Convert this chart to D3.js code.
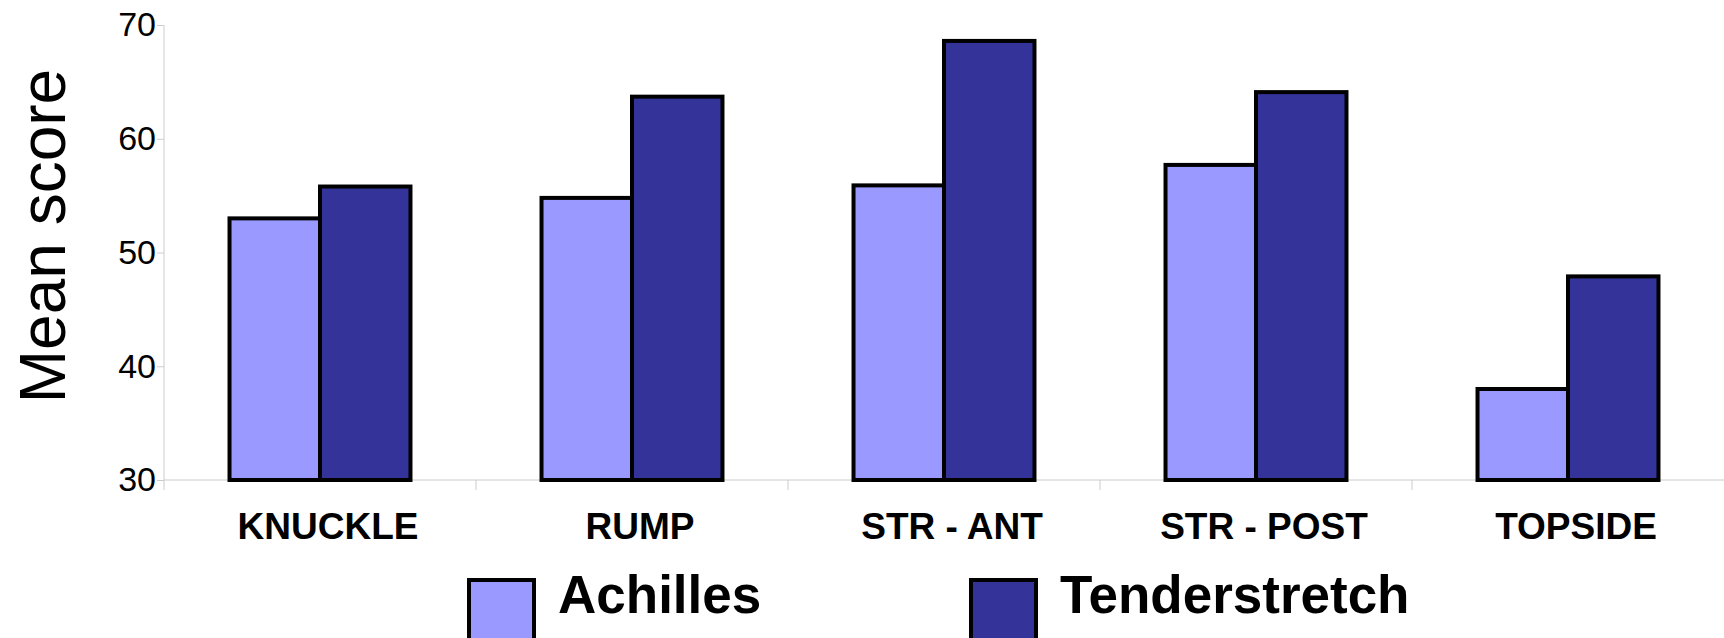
<!DOCTYPE html>
<html>
<head>
<meta charset="utf-8">
<script src="https://cdn.jsdelivr.net/npm/d3@7"></script>
<style>
  html, body { margin: 0; padding: 0; background: #ffffff; }
  svg { display: block; }
</style>
</head>
<body>
<svg id="chart" width="1724" height="638"></svg>
<script>
// Mean score per cut, by treatment
const categories = ["KNUCKLE", "RUMP", "STR - ANT", "STR - POST", "TOPSIDE"];
const seriesNames = ["Achilles", "Tenderstretch"];
const achilles = [53.0, 54.8, 55.9, 57.7, 38.0];
const tenderstretch = [55.8, 63.7, 68.6, 64.1, 47.9];
const yTicks = [30, 40, 50, 60, 70];
const seriesColors = ["#9999ff", "#333399"];

const series = [achilles, tenderstretch];
const width = 1724, height = 638;
const margin = { left: 164, right: 0, top: 25, bottom: 158 };
const axisGray = "#cccccc";

const svg = d3.select("#chart");

const x = d3.scaleBand()
  .domain(categories)
  .range([margin.left, width - margin.right])
  .padding(0);

const xInner = d3.scaleBand()
  .domain(seriesNames)
  .range([x.bandwidth() * 0.21, x.bandwidth() * 0.79])
  .padding(0);

const y = d3.scaleLinear()
  .domain([30, 70])
  .range([height - margin.bottom, margin.top]);

// y axis
const yAxis = svg.append("g")
  .attr("transform", `translate(${margin.left},0)`)
  .call(d3.axisLeft(y).tickValues(yTicks).tickSize(7).tickPadding(1).tickFormat(d3.format("d")));
yAxis.select(".domain").attr("stroke", axisGray).attr("d", `M0,${y(70)}V${y(30) + 10}`);
yAxis.selectAll(".tick line").attr("stroke", axisGray);
yAxis.selectAll(".tick text")
  .attr("fill", "#000")
  .style("font-family", "'Liberation Sans', Arial, sans-serif")
  .style("font-size", "34px");

// x axis baseline and boundary ticks
const xAxis = svg.append("g")
  .attr("transform", `translate(0,${y(30)})`);
xAxis.append("line")
  .attr("x1", margin.left).attr("x2", width)
  .attr("y1", 0).attr("y2", 0)
  .attr("stroke", axisGray);
xAxis.selectAll("line.sep")
  .data(categories.slice(1))
  .join("line")
  .attr("class", "sep")
  .attr("x1", d => x(d)).attr("x2", d => x(d))
  .attr("y1", 0).attr("y2", 10)
  .attr("stroke", axisGray);

// category labels
svg.append("g")
  .selectAll("text")
  .data(categories)
  .join("text")
  .attr("x", d => x(d) + x.bandwidth() / 2 + 8)
  .attr("y", y(30) + 59)
  .attr("text-anchor", "middle")
  .style("font-family", "'Liberation Sans', Arial, sans-serif")
  .style("font-weight", "bold")
  .style("font-size", "37px")
  .text(d => d);

// bars
const groups = svg.append("g")
  .selectAll("g")
  .data(categories)
  .join("g")
  .attr("transform", d => `translate(${x(d)},0)`);

groups.selectAll("rect")
  .data((d, i) => seriesNames.map((s, j) => ({ s, v: series[j][i], j })))
  .join("rect")
  .attr("x", d => xInner(d.s))
  .attr("width", xInner.bandwidth())
  .attr("y", d => y(d.v))
  .attr("height", d => y(30) - y(d.v))
  .attr("fill", d => seriesColors[d.j])
  .attr("stroke", "#000")
  .attr("stroke-width", 4);

// y axis title
svg.append("text")
  .attr("transform", `translate(65,236) rotate(-90)`)
  .attr("text-anchor", "middle")
  .style("font-family", "'Liberation Sans', Arial, sans-serif")
  .style("font-size", "64px")
  .text("Mean score");

// legend
const legendX = d3.scalePoint()
  .domain(seriesNames)
  .range([469, 971]);

const legend = svg.append("g")
  .selectAll("g")
  .data(seriesNames)
  .join("g")
  .attr("transform", d => `translate(${legendX(d)},580)`);

legend.append("rect")
  .attr("width", 65)
  .attr("height", 70)
  .attr("fill", (d, i) => seriesColors[i])
  .attr("stroke", "#000")
  .attr("stroke-width", 4);

legend.append("text")
  .attr("x", 89)
  .attr("y", 33)
  .style("font-family", "'Liberation Sans', Arial, sans-serif")
  .style("font-weight", "bold")
  .style("font-size", "53px")
  .text(d => d);
</script>
</body>
</html>
